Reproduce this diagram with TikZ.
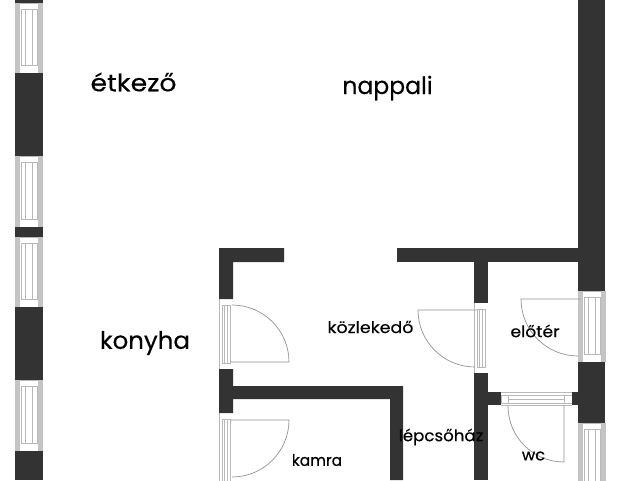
\documentclass[tikz,border=0pt]{standalone}
\usepackage{fontspec}
\setmainfont[FakeBold=0.25]{Poppins}
\definecolor{wallc}{HTML}{333333}
\definecolor{sidec}{HTML}{C4C4C4}
\definecolor{linec}{HTML}{B8B8B8}
\tikzset{
  wall/.style={fill=wallc,draw=none},
  side/.style={fill=sidec,draw=none},
  thin line/.style={draw=linec,line width=0.6pt},
  door/.style={draw=linec!80!black,line width=0.7pt},
  big/.style={text=black,font=\fontsize{24}{28}\selectfont,inner sep=0pt,xscale=#1,transform shape},
  small/.style={text=black,font=\fontsize{16}{19}\selectfont,inner sep=0pt,xscale=#1,transform shape},
}
% wide vertical window: x left, y top, y bottom
\newcommand{\widewin}[3]{%
  \fill[side] (#1,#2) rectangle ++(5,#3-#2);
  \fill[side] (#1+22.5,#2) rectangle ++(5.5,#3-#2);
  \draw[thin line] (#1+5,#2) -- (#1+22.5,#2);
  \draw[thin line] (#1+5,#3) -- (#1+22.5,#3);
  \draw[thin line] (#1+6,#2+6.5) rectangle (#1+22,#3-8);
  \draw[thin line] (#1+10.7,#2+6.5) -- (#1+10.7,#3-8);
  \draw[thin line] (#1+17.3,#2+6.5) -- (#1+17.3,#3-8);
}
% narrow vertical window
\newcommand{\narrowwin}[3]{%
  \draw[thin line] (#1+0.4,#2) -- (#1+0.4,#3);
  \draw[thin line] (#1+2.8,#2+6) rectangle (#1+11,#3-6);
  \draw[thin line] (#1+5,#2+6) -- (#1+5,#3-6);
  \draw[thin line] (#1+7.8,#2+6) -- (#1+7.8,#3-6);
}
\begin{document}
\begin{tikzpicture}[x=1pt,y=-1pt]
\useasboundingbox (0,0) rectangle (640,480);
\fill[white] (0,0) rectangle (640,480);
% left wall
\widewin{15}{3}{73}
\widewin{15}{156}{227}
\widewin{15}{237}{307}
\widewin{15}{380}{451}
\fill[wall] (15,0) rectangle (43,3);
\fill[wall] (15,73) rectangle (43,156);
\fill[wall] (15,227) rectangle (43,237);
\fill[wall] (15,307) rectangle (43,380);
\fill[wall] (15,451) rectangle (43,480);
% right wall
\widewin{578}{291}{362}
\widewin{578}{423}{494}
\fill[wall] (578,0) rectangle (605,291);
\fill[wall] (578,362) rectangle (605,423);
% door windows
\narrowwin{219}{299}{369}
\narrowwin{219}{413}{490}
\narrowwin{474}{303}{373}
\draw[thin line] (488,392) -- (578,392);
\draw[thin line] (501,395.7) rectangle (572,403.3);
\draw[thin line] (508,395.7) -- (508,403.3);
\draw[thin line] (564,395.7) -- (564,403.3);
\draw[thin line] (508,399.3) -- (564,399.3);
\draw[thin line] (501,405) -- (572,405);
% inner walls
\fill[wall] (284,248) -- (219,248) -- (219,299) -- (233,299) -- (233,262) -- (284,262) -- cycle;
\fill[wall] (397,248) rectangle (578,262);
\fill[wall] (474,262) rectangle (488,303);
\fill[wall] (474,373) rectangle (488,480);
\fill[wall] (488,392) rectangle (501,405);
\fill[wall] (572,392) rectangle (578,405);
\fill[wall] (219,369) -- (233,369) -- (233,386) -- (403,386) -- (403,480) -- (390,480) -- (390,399) -- (233,399) -- (233,413) -- (219,413) -- cycle;
% doors
\draw[door] (230,362) -- (289,362) arc[start angle=0,end angle=-90,radius=57];
\draw[door] (230,420) -- (289,420) arc[start angle=0,end angle=90,radius=57];
\draw[door] (477,310) -- (418,310) arc[start angle=180,end angle=90,radius=57];
\draw[door] (580,299) -- (521,299) arc[start angle=180,end angle=90,radius=57];
\draw[door] (564,405) -- (564,462) arc[start angle=90,end angle=180,radius=56];
% labels
\node[big=1.115] (etkezo) at (133.5,82) {étkező};
\node[big=0.98] (nappali) at (387.5,88) {nappali};
\node[big=1.02] (konyha) at (145,343) {konyha};
\node[small=1.09] (kozl) at (370.5,327) {közlekedő};
\node[small=0.96] (kamra) at (317,460) {kamra};
\node[small=1.04] (lepcso) at (441,437) {lépcsőház};
\node[small=1.07] (eloter) at (535,331) {előtér};
\node[small=1.02] (wc) at (533.5,456) {wc};
\end{tikzpicture}
\end{document}
